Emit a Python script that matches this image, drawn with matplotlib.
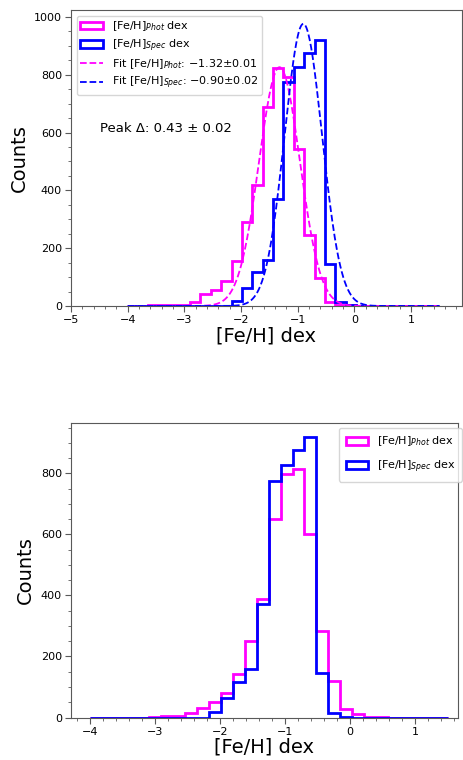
import numpy as np
import matplotlib
matplotlib.use("Agg")
import matplotlib.pyplot as plt

# 30 bins from -4 to 1.5 dex
edges = np.linspace(-4.0, 1.5, 31)
centers = 0.5 * (edges[:-1] + edges[1:])

phot_counts = [0, 0, 2, 3, 4, 5, 15, 41, 54, 88,
               157, 290, 419, 690, 822, 792, 542, 247, 96, 14,
               5, 2, 1, 1, 0, 0, 0, 0, 0, 0]
spec_counts = [0, 0, 0, 0, 0, 0, 0, 0, 0, 0,
               18, 63, 118, 160, 371, 776, 826, 875, 920, 146,
               14, 2, 0, 0, 0, 0, 0, 0, 0, 0]
phot_counts_2 = [0, 0, 0, 0, 0, 3, 5, 6, 15, 32,
                 52, 81, 141, 251, 389, 650, 797, 814, 601, 283,
                 120, 29, 10, 2, 1, 0, 0, 0, 0, 0]

# gaussian fits (amplitude, mean, sigma)
fit_phot = (826, -1.32, 0.36)
fit_spec = (976, -0.90, 0.33)
fit_err = {"phot": 0.01, "spec": 0.02}
peak_delta, peak_err = 0.43, 0.02

MAG = "#ff00ff"
BLU = "#0000ff"


def gauss(x, a, mu, sig):
    return a * np.exp(-0.5 * ((x - mu) / sig) ** 2)


def style(ax):
    ax.minorticks_on()
    ax.tick_params(which="both", direction="out", labelsize=8, color="0.35")
    ax.tick_params(which="major", length=4, pad=2.5)
    ax.tick_params(which="minor", length=2)
    for s in ax.spines.values():
        s.set_color("0.35")
    ax.set_xlabel("[Fe/H] dex", fontsize=14, labelpad=1)
    ax.set_ylabel("Counts", fontsize=14, labelpad=4)


fig = plt.figure(figsize=(4.63, 7.6), dpi=100)
ax1 = fig.add_axes([0.1533, 0.5974, 0.8445, 0.3895])
ax2 = fig.add_axes([0.1533, 0.0559, 0.8359, 0.3879])

# top: histograms with gaussian fits
ax1.hist(centers, bins=edges, weights=phot_counts, histtype="step",
         color=MAG, lw=2, label=r"[Fe/H]$_{Phot}$ dex")
ax1.hist(centers, bins=edges, weights=spec_counts, histtype="step",
         color=BLU, lw=2, label=r"[Fe/H]$_{Spec}$ dex")
xf = np.linspace(-4.0, 1.5, 400)
ax1.plot(xf, gauss(xf, *fit_phot), "--", color=MAG, lw=1.3,
         label=r"Fit [Fe/H]$_{Phot}$: $%.2f{\pm}%.2f$" % (fit_phot[1], fit_err["phot"]))
ax1.plot(xf, gauss(xf, *fit_spec), "--", color=BLU, lw=1.3,
         label=r"Fit [Fe/H]$_{Spec}$: $%.2f{\pm}%.2f$" % (fit_spec[1], fit_err["spec"]))
ax1.text(0.074, 0.60, "Peak Δ: %.2f ± %.2f" % (peak_delta, peak_err),
         transform=ax1.transAxes, fontsize=9.5, va="center")
ax1.set_xlim(-5, 1.9)
ax1.set_ylim(0, 1024)
ax1.legend(loc="upper left", fontsize=8, labelspacing=0.35, borderpad=0.35)
style(ax1)

# bottom: second photometric sample vs spectroscopic
ax2.hist(centers, bins=edges, weights=phot_counts_2, histtype="step",
         color=MAG, lw=2, label=r"[Fe/H]$_{Phot}$ dex")
ax2.hist(centers, bins=edges, weights=spec_counts, histtype="step",
         color=BLU, lw=2, label=r"[Fe/H]$_{Spec}$ dex")
ax2.set_xlim(-4.29, 1.66)
ax2.set_ylim(0, 966)
ax2.legend(loc="upper right", bbox_to_anchor=(1.01, 0.982), borderaxespad=0,
           fontsize=8, labelspacing=0.9, borderpad=0.6)
style(ax2)

fig.savefig("out.png", dpi=100)
